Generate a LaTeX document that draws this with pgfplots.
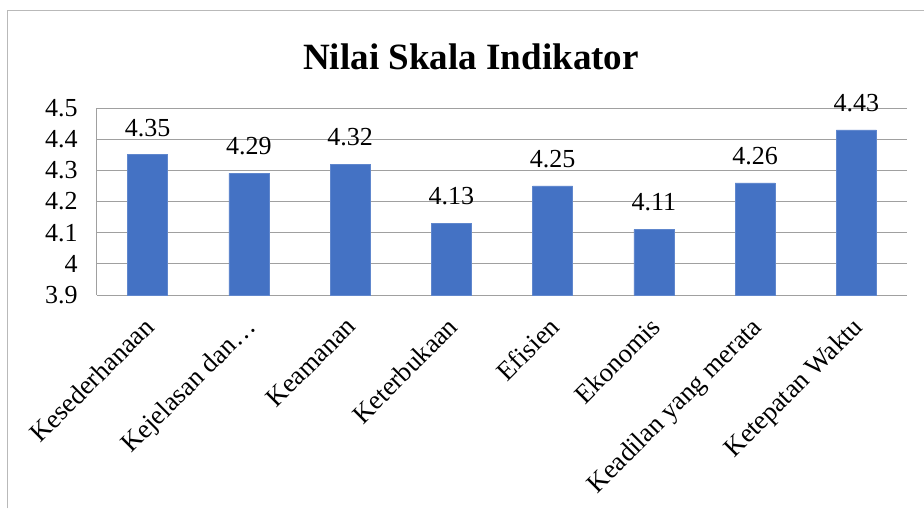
\documentclass[border=0pt]{standalone}
\usepackage{pgfplots}
\pgfplotsset{compat=1.18}
\usepackage{fontspec}
\setmainfont{LiberationSerif}[Extension=.ttf, UprightFont=*-Regular, BoldFont=*-Bold, ItalicFont=*-Italic, BoldItalicFont=*-BoldItalic]
\definecolor{barblue}{HTML}{4472C4}
\definecolor{gridgray}{HTML}{A0A0A0}
\begin{document}
\begin{tikzpicture}
\path[use as bounding box] (-72.75pt,-159.75pt) rectangle (620.25pt,221.25pt);
\draw[gray!55, line width=0.75pt] (-66.75pt,-160pt) -- (-66.75pt,213pt) -- (621pt,213pt);
\begin{axis}[
  at={(0,0)}, anchor=south west,
  scale only axis, width=607.5pt, height=140.25pt,
  ymin=3.9, ymax=4.5,
  ytick={3.9,4,4.1,4.2,4.3,4.4,4.5},
  yticklabels={3.9,4,4.1,4.2,4.3,4.4,4.5},
  xmin=-0.5, xmax=7.5,
  xtick={0,...,7},
  xticklabels={Kesederhanaan,Kejelasan dan…,Keamanan,Keterbukaan,Efisien,Ekonomis,Keadilan yang merata,Ketepatan Waktu},
  axis x line*=bottom, axis y line*=left,
  ymajorgrids, grid style={gridgray, line width=0.75pt},
  axis line style={gridgray, line width=0.75pt},
  major tick length=0pt,
  tick label style={font=\fontsize{19.5}{22}\selectfont},
  /pgf/number format/assume math mode=true,
  yticklabel style={xshift=-11pt},
  xticklabel style={font=\fontsize{20}{22}\selectfont, rotate=45, anchor=north east, xshift=-10.1pt, yshift=-4.7pt},
  ybar, bar width=30pt,
  nodes near coords,
  every node near coord/.append style={font=\fontsize{19.5}{22}\selectfont, inner sep=0pt, yshift=13.5pt, black},
]
\addplot[fill=barblue, draw=barblue!85!white] coordinates {(0,4.35)(1,4.29)(2,4.32)(3,4.13)(4,4.25)(5,4.11)(6,4.26)(7,4.43)};
\end{axis}
\node[font=\bfseries\fontsize{27.8}{30}\selectfont] at (280.5pt,178.5pt) {Nilai Skala Indikator};
\end{tikzpicture}
\end{document}
